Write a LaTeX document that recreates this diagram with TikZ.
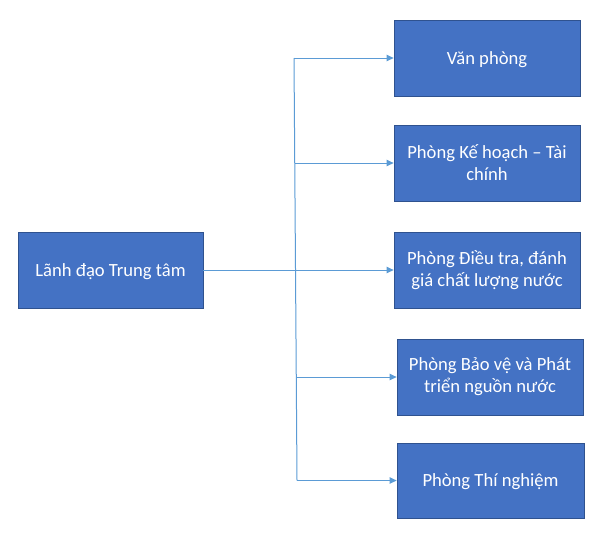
\documentclass[tikz,border=0pt]{standalone}
\usepackage{fontspec}
\setmainfont{Carlito}
\usetikzlibrary{arrows.meta}
\definecolor{boxfill}{HTML}{4472C4}
\definecolor{boxline}{HTML}{2F528F}
\definecolor{conn}{HTML}{5B9BD5}
\tikzset{
  unitbox/.style={draw=boxline, line width=0.8pt, fill=boxfill, text=white,
    minimum width=186pt, minimum height=76pt, align=center, inner sep=2pt,
    font=\fontsize{18.6pt}{22pt}\selectfont},
  oneline/.style={text height=14pt, text depth=2pt},
  conline/.style={draw=conn, line width=1pt},
  arr/.style={conline, -{Triangle[length=7pt,width=6.5pt]}}
}
\begin{document}
\begin{tikzpicture}[x=1pt,y=-1pt]
\useasboundingbox (0,0) rectangle (604,536);
\node[unitbox, oneline, minimum width=185pt] (lead) at (110.5,270) {Lãnh đạo Trung tâm};
\node[unitbox, oneline] (b1) at (487,58) {Văn phòng};
\node[unitbox] (b2) at (487,163) {Phòng Kế hoạch – Tài\\chính};
\node[unitbox] (b3) at (487,270) {Phòng Điều tra, đánh\\giá chất lượng nước};
\node[unitbox] (b4) at (490,377) {Phòng Bảo vệ và Phát\\triển nguồn nước};
\node[unitbox, oneline, minimum width=187pt, minimum height=75pt] (b5) at (490.5,480.5) {Phòng Thí nghiệm};
\coordinate (j1) at (294,58);
\coordinate (j2) at (294.7,163);
\coordinate (j3) at (295.5,270);
\coordinate (j4) at (296.3,377);
\coordinate (j5) at (297,480.5);
\draw[conline] (j1) -- (j5);
\draw[arr] (lead.east) -- (b3.west);
\draw[arr] (j1) -- (b1.west);
\draw[arr] (j2) -- (b2.west);
\draw[arr] (j4) -- (b4.west);
\draw[arr] (j5) -- (b5.west);
\end{tikzpicture}
\end{document}
